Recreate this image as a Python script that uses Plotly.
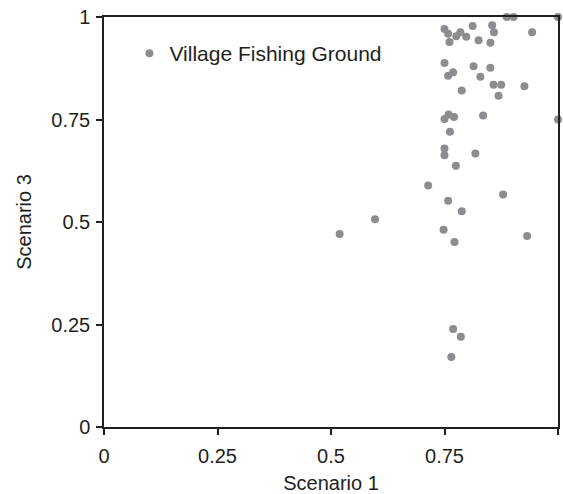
import plotly.graph_objects as go

# Scenario 1 vs Scenario 3 scores for each village fishing ground
scenario_1 = [
    0.750, 0.758, 0.761, 0.776, 0.785, 0.798, 0.812, 0.825, 0.851, 0.855,
    0.859, 0.943, 0.887, 0.902, 1.000, 0.750, 0.758, 0.769, 0.814, 0.851,
    0.829, 0.858, 0.875, 0.926, 0.788, 0.869, 0.750, 0.759, 0.771, 0.835,
    1.000, 0.762, 0.750, 0.750, 0.818, 0.775, 0.714, 0.879, 0.758, 0.788,
    0.597, 0.519, 0.748, 0.772, 0.932, 0.769, 0.786, 0.765,
]
scenario_3 = [
    0.971, 0.959, 0.939, 0.953, 0.963, 0.952, 0.978, 0.943, 0.937, 0.980,
    0.963, 0.963, 1.000, 1.000, 1.000, 0.888, 0.857, 0.865, 0.880, 0.876,
    0.854, 0.835, 0.835, 0.831, 0.821, 0.808, 0.751, 0.762, 0.756, 0.760,
    0.750, 0.720, 0.679, 0.663, 0.667, 0.637, 0.589, 0.567, 0.552, 0.526,
    0.507, 0.471, 0.481, 0.451, 0.466, 0.239, 0.220, 0.171,
]
tick_vals = [0, 0.25, 0.5, 0.75, 1]
tick_text = ["0", "0.25", "0.5", "0.75", "1"]

ink = "#231f20"
dot = "#8d8d91"
font_family = "Liberation Sans, Arial, sans-serif"

fig = go.Figure()
fig.add_trace(go.Scatter(
    x=scenario_1,
    y=scenario_3,
    mode="markers",
    name="Village Fishing Ground",
    marker=dict(color=dot, size=8, line=dict(width=0)),
    cliponaxis=False,
))

axis_common = dict(
    range=[0, 1],
    tickvals=tick_vals,
    ticktext=tick_text,
    showgrid=False,
    zeroline=False,
    showline=True,
    linecolor=ink,
    linewidth=1.5,
    mirror=True,
    ticks="outside",
    ticklen=6,
    tickwidth=1.5,
    tickcolor=ink,
    tickfont=dict(family=font_family, size=20, color=ink),
)

fig.update_layout(
    width=563,
    height=494,
    margin=dict(l=104, r=3, t=17, b=67),
    paper_bgcolor="white",
    plot_bgcolor="white",
    font=dict(family=font_family, color=ink),
    showlegend=True,
    legend=dict(
        x=0.056, y=0.911, xanchor="left", yanchor="middle",
        bgcolor="rgba(0,0,0,0)",
        font=dict(family=font_family, size=21, color=ink),
        itemwidth=30,
    ),
    xaxis=dict(
        **axis_common,
        ticklabelstandoff=4,
        title=dict(text="Scenario 1", font=dict(family=font_family, size=20, color=ink), standoff=10),
    ),
    yaxis=dict(
        **axis_common,
        ticklabelstandoff=2,
        title=dict(text="Scenario 3", font=dict(family=font_family, size=20, color=ink), standoff=14),
    ),
)

fig.write_html("out.html")
